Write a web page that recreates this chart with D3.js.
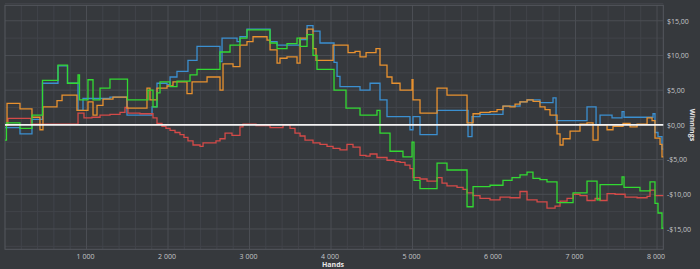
<!DOCTYPE html>
<html><head><meta charset="utf-8">
<script src="https://cdn.jsdelivr.net/npm/d3@7"></script>
<style>
html,body{margin:0;padding:0;background:#36393d;}
svg{display:block;}
text{font-family:"Open Sans","DejaVu Sans",sans-serif;}
</style></head><body>
<svg id="c" width="700" height="269"></svg>
<script>
// Each series: hands at which the running total changes, and the winnings ($) from that hand on
const blueHands  = [0,184,331,460,650,767,896,957,1288,1497,1804,1865,1988,2025,2110,2245,2356,2638,2663,2847,2883,2969,3252,3338,3620,3706,3779,3865,4037,4074,4110,4356,4479,4601,4687,4969,5006,5092,5301,5681,5730,5828,6110,6319,6405,6564,6724,6761,7141,7252,7301,7448,7571,7595,7951,7975,8012,8061,8077];
const blueValues = [-0.4,-1.3,0.8,6.0,8.5,6.0,2.1,3.8,4.0,1.4,2.6,6.0,5.8,6.9,7.7,9.3,11.3,9.1,12.5,12.0,12.7,13.8,12.0,11.5,12.3,14.3,13.5,11.8,9.0,7.0,5.5,5.0,6.0,3.6,1.2,-0.7,1.2,-1.4,2.1,-1.7,1.2,1.5,2.7,3.3,3.6,3.2,3.9,0.6,2.6,0.0,1.4,1.0,1.9,1.1,1.6,-1.1,-1.7,-3.5,-3.5];

const redHands  = [0,37,319,896,969,1067,1166,1288,1411,1472,1509,1656,1816,1865,1926,1975,2025,2086,2147,2196,2245,2307,2393,2430,2540,2589,2638,2700,2785,2883,2920,3080,3252,3411,3497,3558,3620,3681,3779,3865,3951,4025,4110,4196,4270,4356,4429,4479,4564,4687,4785,4847,4908,4969,5006,5092,5178,5301,5362,5423,5546,5620,5669,5743,5828,5951,6074,6196,6319,6405,6528,6650,6749,6810,6896,6970,7055,7141,7240,7301,7387,7485,7608,7755,7878,7914,7975,8077];
const redValues = [0,0.95,0.1,1.7,1.0,1.1,1.4,1.5,1.8,2.5,1.7,1.6,1.0,0.2,-0.2,-0.5,-0.8,-1.1,-1.4,-1.8,-2.3,-2.9,-3.1,-2.6,-2.6,-2.3,-2.0,-1.2,-1.5,-0.3,0.1,-0.1,-0.4,0.0,-0.5,-1.2,-1.6,-2.2,-2.6,-2.8,-3.1,-3.4,-3.6,-2.8,-3.2,-4.4,-4.5,-4.2,-4.7,-5.1,-5.3,-5.4,-5.8,-6.3,-7.6,-7.8,-8.1,-7.6,-8.4,-8.8,-9.0,-9.3,-9.8,-10.2,-10.6,-10.8,-10.4,-10.5,-9.6,-10.8,-11.1,-12.0,-11.7,-11.0,-10.6,-10.0,-10.2,-10.9,-10.6,-10.9,-9.9,-10.0,-10.4,-10.5,-10.3,-9.4,-10.2,-10.2];

const orangeHands  = [0,25,184,331,429,466,638,700,883,1018,1080,1129,1202,1325,1497,1742,1779,1865,1988,2061,2233,2295,2479,2638,2675,2798,2883,2969,3043,3215,3252,3338,3374,3460,3583,3620,3706,3779,3816,4025,4209,4295,4356,4430,4552,4601,4687,4748,4847,4994,5006,5092,5301,5423,5669,5743,5828,5951,6037,6110,6196,6258,6319,6405,6479,6564,6626,6687,6773,6810,6847,6933,7055,7141,7215,7276,7387,7460,7583,7669,7755,7878,7939,7975,8037,8061,8077];
const orangeValues = [0,3.1,2.3,1.1,-0.7,2.6,3.5,4.3,2.1,3.3,1.4,2.8,3.7,4.0,2.4,5.3,3.6,5.3,5.6,6.2,4.5,6.2,6.9,5.0,8.8,8.4,11.5,12.0,12.7,12.2,10.8,8.9,9.6,9.8,8.9,12.5,13.8,11.0,9.3,11.5,10.4,10.6,9.8,10.4,11.0,8.6,6.9,6.0,5.0,6.5,3.6,1.7,5.3,4.3,0.3,1.6,1.8,1.9,2.2,2.7,2.6,3.0,3.3,3.6,3.4,2.6,2.2,1.4,-1.3,-2.9,-2.0,-0.9,0.1,0.3,-2.2,0.0,-0.7,-0.2,0.2,-0.3,0.1,1.0,0.6,-1.9,-2.8,-4.6,-4.6];

const greenHands  = [0,18,184,331,460,650,767,896,914,1018,1080,1166,1288,1503,1755,1816,1865,1902,2025,2110,2270,2356,2638,2761,2883,2969,3252,3338,3460,3583,3620,3706,3779,3828,4037,4184,4356,4564,4601,4724,4883,4994,5018,5092,5301,5423,5669,5743,5951,6110,6221,6319,6405,6478,6564,6650,6773,6970,7141,7264,7301,7571,7595,7791,7914,7975,8012,8061,8077];
const greenValues = [-2.2,0.3,-0.5,1.4,6.4,8.6,6.0,7.2,3.6,6.5,3.6,5.3,6.6,3.6,5.0,2.6,4.6,6.2,5.5,6.3,7.2,8.0,10.5,11.5,12.5,13.7,11.8,11.0,11.7,12.5,11.3,13.0,10.0,8.0,5.0,2.4,1.4,2.1,-1.2,-3.8,-4.6,-2.5,-8.0,-9.2,-5.5,-6.5,-11.8,-8.9,-8.7,-8.0,-7.6,-7.2,-6.8,-7.7,-7.9,-8.2,-11.2,-9.8,-8.1,-10.8,-8.6,-7.5,-9.0,-9.5,-8.2,-11.3,-12.7,-14.9,-14.9];

const xTickValues = [1000,2000,3000,4000,5000,6000,7000,8000];
const xTickLabels = ["1 000","2 000","3 000","4 000","5 000","6 000","7 000","8 000"];
const yTickValues = [15,10,5,0,-5,-10,-15];
const yTickLabels = ["$15,00","$10,00","$5,00","$0,00","-$5,00","-$10,00","-$15,00"];

const seriesOrder = [
  {hands: blueHands, values: blueValues, color:"#3b8fd0"},
  {hands: redHands, values: redValues, color:"#d44a48"},
  {hands: orangeHands, values: orangeValues, color:"#e8912f"},
  {hands: greenHands, values: greenValues, color:"#32d932"}
];

const svg = d3.select("#c");
const L = 5, R = 663.3, T = 5.3, B = 249.3;
const x = d3.scaleLinear().domain([0, 8077]).range([L, R]);
const y = d3.scaleLinear().domain([-17.93, 17.23]).range([B, T]);

const g = svg.append("g");
const minorX = d3.range(200, 8077, 200).filter(v => v % 1000 !== 0);
g.selectAll(".vx").data(minorX).enter().append("line")
  .attr("x1", d => x(d)).attr("x2", d => x(d)).attr("y1", T).attr("y2", B)
  .attr("stroke", "#41444a").attr("stroke-width", 1);
const minorY = d3.range(-17.5, 17.6, 2.5).filter(v => v % 5 !== 0);
g.selectAll(".vy").data(minorY).enter().append("line")
  .attr("x1", L).attr("x2", R).attr("y1", d => y(d)).attr("y2", d => y(d))
  .attr("stroke", "#41444a").attr("stroke-width", 1);
g.selectAll(".mx").data(xTickValues).enter().append("line")
  .attr("x1", d => x(d)).attr("x2", d => x(d)).attr("y1", T).attr("y2", B)
  .attr("stroke", "#4b4e54").attr("stroke-width", 1);
g.selectAll(".my").data(yTickValues).enter().append("line")
  .attr("x1", L).attr("x2", R).attr("y1", d => y(d)).attr("y2", d => y(d))
  .attr("stroke", "#4b4e54").attr("stroke-width", 1);
g.append("rect").attr("x", L).attr("y", T).attr("width", R - L).attr("height", B - T)
  .attr("fill", "none").attr("stroke", "#55585e").attr("stroke-width", 1);

seriesOrder.forEach(s => {
  const pts = s.values.map((v, i) => [s.hands[i], v]);
  const line = d3.line().curve(d3.curveStepAfter)
    .x(d => x(d[0])).y(d => y(d[1]));
  g.append("path").datum(pts)
    .attr("d", line)
    .attr("fill", "none")
    .attr("stroke", s.color)
    .attr("stroke-width", 1.3);
});

g.append("line").attr("x1", L).attr("x2", R).attr("y1", y(0)).attr("y2", y(0))
  .attr("stroke", "#f4f4f4").attr("stroke-width", 1.6);

const xAxis = d3.axisBottom(x).tickValues(xTickValues)
  .tickFormat((d, i) => xTickLabels[i]).tickSize(0).tickPadding(0);
const xa = svg.append("g").attr("transform", `translate(-1.5,${B + 5})`).call(xAxis);
xa.select(".domain").remove();
xa.selectAll("text").attr("fill", "#c4c6c9").style("font-size", "7px").attr("dy", "0.71em");

const yAxis = d3.axisRight(y).tickValues(yTickValues)
  .tickFormat((d, i) => yTickLabels[i]).tickSize(0).tickPadding(0);
const ya = svg.append("g").attr("transform", `translate(667,0)`).call(yAxis);
ya.select(".domain").remove();
ya.selectAll("text").attr("fill", "#c4c6c9").style("font-size", "7px");

svg.append("text").attr("x", 333).attr("y", 267).attr("text-anchor", "middle")
  .attr("fill", "#e6e6e6").style("font-size", "7px").style("font-weight", "bold").text("Hands");
svg.append("text").attr("transform", "translate(690,125) rotate(90)").attr("text-anchor", "middle")
  .attr("fill", "#e6e6e6").style("font-size", "7px").style("font-weight", "bold").text("Winnings");
</script>
</body></html>
